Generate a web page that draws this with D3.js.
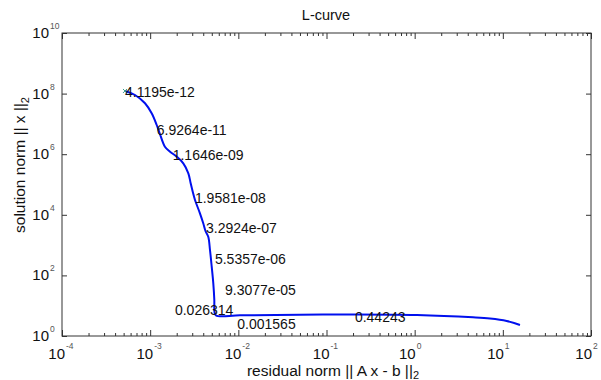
<!DOCTYPE html>
<html>
<head>
<meta charset="utf-8">
<script src="https://cdn.jsdelivr.net/npm/d3@7"></script>
<style>
  html, body { margin: 0; padding: 0; background: #fff; }
  svg { display: block; font-family: "Liberation Sans", Arial, Helvetica, sans-serif; }
</style>
</head>
<body>
<svg id="chart" width="601" height="380"></svg>
<script>
// ---- data ----
const rho = [5.18e-4, 6.73e-4, 8.74e-4, 1.04e-3, 1.186e-3, 1.29e-3, 1.47e-3, 1.68e-3, 2.0e-3, 2.375e-3,
             2.71e-3, 2.88e-3, 3.04e-3, 3.225e-3, 3.67e-3, 4.0e-3, 4.24e-3, 4.56e-3, 4.77e-3, 4.99e-3,
             5.2e-3, 5.34e-3, 5.365e-3, 5.58e-3, 1.044e-2, 5.0e-2, 0.1847, 1.063, 4.59, 7.15, 11.06, 15.65];
const eta = [1.22e8, 9.0e7, 4.79e7, 2.24e7, 9.2e6, 4.64e6, 1.77e6, 1.21e6, 8.3e5, 5.0e5,
             2.34e5, 1.1e5, 5.78e4, 3.08e4, 1.12e4, 5.24e3, 2.92e3, 1.89e3, 689, 194,
             54.8, 15.4, 6.2, 4.75, 4.82, 5.01, 5.12, 4.93, 4.14, 3.78, 3.13, 2.31];
const labelText = ["4.1195e-12", "6.9264e-11", "1.1646e-09", "1.9581e-08", "3.2924e-07",
                   "5.5357e-06", "9.3077e-05", "0.026314", "0.001565", "0.44243"];
const labelRho = [5.18e-4, 1.19e-3, 1.80e-3, 3.22e-3, 4.30e-3, 5.43e-3, 7.07e-3, 1.91e-3, 9.73e-3, 0.210];
const labelEta = [1.16e8, 6.3e6, 9.4e5, 3.6e4, 3.6e3, 340, 33, 7.2, 2.49, 4.33];
const xMajorExp = [-4, -3, -2, -1, 0, 1, 2];
const yMajorExp = [0, 2, 4, 6, 8, 10];
const titleText = "L-curve";
const xLabelText = "residual norm || A x - b ||";
const yLabelText = "solution norm || x ||";
const subText = "2";

// ---- layout ----
const L = 62, R = 591, T = 33, B = 336;
const svg = d3.select("#chart");
svg.append("rect").attr("width", 601).attr("height", 380).attr("fill", "#fff");

const x = d3.scaleLog().domain([1e-4, 1e2]).range([L, R]);
const y = d3.scaleLog().domain([1, 1e10]).range([B, T]);

const axisColor = "#333";
const xMajor = xMajorExp.map(e => Math.pow(10, e));
const xMinor = [];
for (let e = -4; e < 2; e++) for (let k = 2; k <= 9; k++) xMinor.push(k * Math.pow(10, e));
const yMajor = yMajorExp.map(e => Math.pow(10, e));

function styleAxis(g) {
  g.select(".domain").remove();
  g.selectAll("line").attr("stroke", axisColor).attr("stroke-width", 1);
  g.selectAll("text").remove();
}
// bottom
svg.append("g").attr("transform", `translate(0,${B})`)
  .call(d3.axisBottom(x).tickValues(xMajor).tickSize(-6).tickFormat("")).call(styleAxis);
svg.append("g").attr("transform", `translate(0,${B})`)
  .call(d3.axisBottom(x).tickValues(xMinor).tickSize(-3).tickFormat("")).call(styleAxis);
// top
svg.append("g").attr("transform", `translate(0,${T})`)
  .call(d3.axisTop(x).tickValues(xMajor).tickSize(-6).tickFormat("")).call(styleAxis);
svg.append("g").attr("transform", `translate(0,${T})`)
  .call(d3.axisTop(x).tickValues(xMinor).tickSize(-3).tickFormat("")).call(styleAxis);
// left / right
svg.append("g").attr("transform", `translate(${L},0)`)
  .call(d3.axisLeft(y).tickValues(yMajor).tickSize(-5).tickFormat("")).call(styleAxis);
svg.append("g").attr("transform", `translate(${R},0)`)
  .call(d3.axisRight(y).tickValues(yMajor).tickSize(-5).tickFormat("")).call(styleAxis);

// box
svg.append("rect").attr("x", L).attr("y", T).attr("width", R - L).attr("height", B - T)
  .attr("fill", "none").attr("stroke", axisColor).attr("stroke-width", 1);

// tick labels x
const xl = svg.append("g").attr("fill", "#111");
xMajorExp.forEach(e => {
  const px = x(Math.pow(10, e));
  const off = e < 0 ? 3 : 1;
  xl.append("text").attr("x", px + off).attr("y", 359).attr("text-anchor", "end")
    .attr("font-size", 15).text("10");
  xl.append("text").attr("x", px + off + 1).attr("y", 349).attr("text-anchor", "start")
    .attr("font-size", 8.5).attr("fill", "#555").text(String(e));
});
// tick labels y
yMajorExp.forEach(e => {
  const py = y(Math.pow(10, e));
  xl.append("text").attr("x", 49).attr("y", py + 5).attr("text-anchor", "end")
    .attr("font-size", 15).text("10");
  xl.append("text").attr("x", 50).attr("y", py - 4).attr("text-anchor", "start")
    .attr("font-size", 8.5).attr("fill", "#555").text(String(e));
});

// title
svg.append("text").attr("x", 326).attr("y", 20).attr("text-anchor", "middle")
  .attr("font-size", 14.5).attr("fill", "#111").text(titleText);

// x label
const xt = svg.append("text").attr("x", 333).attr("y", 376).attr("text-anchor", "middle")
  .attr("font-size", 15.5).attr("fill", "#111");
xt.append("tspan").text(xLabelText);
xt.append("tspan").attr("dy", 3).attr("font-size", 11).text(subText);

// y label
const yt = svg.append("text").attr("transform", "translate(25,165) rotate(-90)")
  .attr("text-anchor", "middle").attr("font-size", 15.5).attr("fill", "#111");
yt.append("tspan").text(yLabelText);
yt.append("tspan").attr("dy", 4).attr("font-size", 11).text(subText);

// curve
const pts = rho.map((r, i) => [r, eta[i]]);
const line = d3.line().x(d => x(d[0])).y(d => y(d[1])).curve(d3.curveCatmullRom.alpha(0.5));
svg.append("path").datum(pts).attr("d", line).attr("fill", "none")
  .attr("stroke", "#0010ee").attr("stroke-width", 2).attr("stroke-linejoin", "round");

// marker at first point
const m0 = [x(rho[0]), y(eta[0])];
svg.append("path").attr("d", `M${m0[0]-2},${m0[1]-2}L${m0[0]+2},${m0[1]+2}M${m0[0]-2},${m0[1]+2}L${m0[0]+2},${m0[1]-2}`)
  .attr("stroke", "#3a9a8a").attr("stroke-width", 1);

// labels
const lg = svg.append("g").attr("fill", "#111").attr("font-size", 14);
labelText.forEach((t, i) => {
  lg.append("text").attr("x", x(labelRho[i])).attr("y", y(labelEta[i]))
    .attr("dy", "0.35em").text(t);
});
</script>
</body>
</html>
